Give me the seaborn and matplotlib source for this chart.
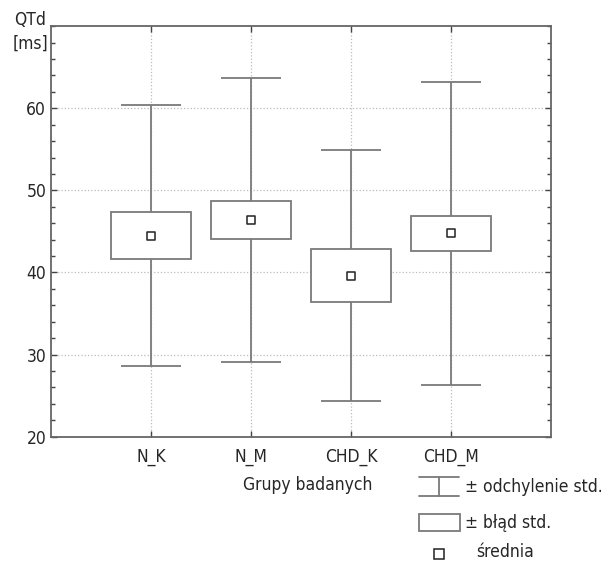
import numpy as np
import pandas as pd
import matplotlib
matplotlib.use('Agg')
import matplotlib.pyplot as plt
from matplotlib.ticker import MultipleLocator
from matplotlib.lines import Line2D
from matplotlib.patches import Rectangle
import seaborn as sns

# values
groups = ['N_K', 'N_M', 'CHD_K', 'CHD_M']
means  = [44.5, 46.35, 39.6, 44.75]
se     = [2.85, 2.30, 3.20, 2.15]
sd     = [15.9, 17.3, 15.3, 18.5]

df = pd.DataFrame({'grupa': groups, 'srednia': means, 'se': se, 'sd': sd})
df['x'] = np.arange(len(df))

sns.set_style('white')
plt.rcParams['font.family'] = ['DejaVu Sans']
plt.rcParams['font.stretch'] = 'condensed'
_fs = 12.5
_gray = '#7a7a7a'
_dark = '#444444'

fig = plt.figure(figsize=(6.07, 5.64), dpi=100)
ax = fig.add_axes([0.084, 0.2257, 0.8237, 0.728])

# whiskers (+- sd)
ax.errorbar(df['x'], df['srednia'], yerr=df['sd'], fmt='none', ecolor=_gray,
            elinewidth=1.3, capsize=21.6, capthick=1.3, zorder=2)
# boxes (+- se)
ax.bar(df['x'], 2*df['se'], bottom=df['srednia']-df['se'], width=0.8,
       color='white', edgecolor=_gray, linewidth=1.3, zorder=3)
# means
sns.scatterplot(data=df, x='x', y='srednia', marker='s', s=40, facecolor='white',
                edgecolor='#222222', linewidth=1.1, ax=ax, zorder=4, legend=False)

ax.set_xlim(-1, 4)
ax.set_ylim(20, 70)
ax.set_xticks(df['x'])
ax.set_xticklabels(groups, fontsize=_fs)
ax.yaxis.set_major_locator(MultipleLocator(10))
ax.yaxis.set_minor_locator(MultipleLocator(2))
ax.set_yticks([20, 30, 40, 50, 60])
ax.tick_params(axis='y', labelsize=_fs)
ax.tick_params(which='both', direction='in', top=True, right=True, left=True, bottom=True, color=_dark)
ax.tick_params(which='major', length=4, width=1)
ax.tick_params(which='minor', length=3, width=1)
ax.tick_params(axis='x', pad=8)
ax.set_xlabel('')
ax.set_ylabel('')
ax.grid(True, which='major', linestyle=':', color='#bbbbbb', linewidth=0.9, zorder=0)
ax.set_axisbelow(True)
for s in ax.spines.values():
    s.set_color('#666666')
    s.set_linewidth(1.3)

fig.text(30/607, 1-20/564, 'QTd', fontsize=_fs, ha='center', va='center')
fig.text(30/607, 1-44/564, '[ms]', fontsize=_fs, ha='center', va='center')
fig.text(308/607, 1-485/564, 'Grupy badanych', fontsize=_fs, ha='center', va='center')

# legend drawn by hand in pixel coords
def px(x, y):
    return x/607, 1-y/564

for (x0, y0), (x1, y1) in [((419, 477), (459, 477)), ((419, 496), (459, 496)), ((439, 477), (439, 496))]:
    a, b = px(x0, y0); c, d = px(x1, y1)
    fig.add_artist(Line2D([a, c], [b, d], color=_gray, lw=1.3))
a, b = px(419, 531)
fig.add_artist(Rectangle((a, b), 41/607, 17/564, facecolor='white', edgecolor=_gray, lw=1.3))
a, b = px(439, 554)
fig.add_artist(Line2D([a], [b], marker='s', ms=7, mfc='white', mec='#222222', mew=1.1))

fig.text(*px(465, 487), '± odchylenie std.', fontsize=_fs, va='center')
fig.text(*px(465, 523), '± błąd std.', fontsize=_fs, va='center')
fig.text(*px(476, 552), 'średnia', fontsize=_fs, va='center')

fig.savefig('out.png', dpi=100)
